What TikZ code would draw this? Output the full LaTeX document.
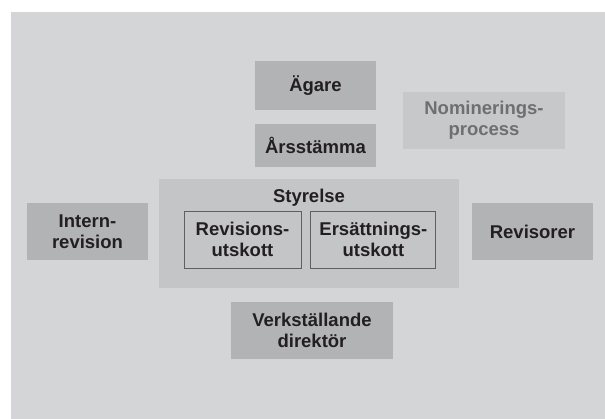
\documentclass[tikz,border=0pt]{standalone}
\usepackage{fontspec}
\setmainfont{Liberation Sans}
\usetikzlibrary{positioning}
\definecolor{bggray}{HTML}{D4D5D7}
\definecolor{boxgray}{HTML}{B2B3B5}
\definecolor{boardgray}{HTML}{C4C5C7}
\definecolor{nomgray}{HTML}{C7C8CA}
\definecolor{ink}{HTML}{231F20}
\definecolor{faded}{HTML}{6E6F71}
\definecolor{rimgray}{HTML}{5E5F61}

\begin{document}
\begin{tikzpicture}[x=1pt,y=-1pt,
    lbl/.style={font=\bfseries\fontsize{18.5}{21}\selectfont,align=center,inner sep=0pt},
    unit/.style={lbl,fill=boxgray,text=ink,minimum width=121pt,minimum height=57pt},
    committee/.style={lbl,fill=boardgray,draw=rimgray,line width=.9pt,text=ink,minimum height=57pt}]
      \useasboundingbox (0,0) rectangle (605,419);
      \fill[bggray] (11,12) rectangle (605,419);
      % owners and meeting
      \node[unit,minimum height=49pt] (agare) at (315.5,85.5) {Ägare};
      \node[unit,minimum height=43pt] (stamma) [below=14pt of agare] {Årsstämma};
      \node[lbl,fill=nomgray,text=faded,minimum width=162pt,minimum height=57pt] (nom) at (484,120.5) {Nominerings-\\process};
      % board with committees
      \node[fill=boardgray,minimum width=300pt,minimum height=109pt,inner sep=0pt] (styrelse) at (309,233.5) {};
      \node[lbl,text=ink] (styrlbl) at (309,198) {Styrelse};
      \node[committee,minimum width=117pt] (revu) at (242.5,239.5) {Revisions-\\utskott};
      \node[committee,minimum width=125pt] (ersu) [right=9pt of revu] {Ersättnings-\\utskott};
      % sides
      \node[unit] (intern) at (87.5,231.5) {Intern-\\revision};
      \node[unit] (revisorer) at (532.5,231.5) {Revisorer};
      % ceo
      \node[unit,minimum width=162pt] (vd) at (312,330.5) {Verkställande\\direktör};
\end{tikzpicture}
\end{document}
